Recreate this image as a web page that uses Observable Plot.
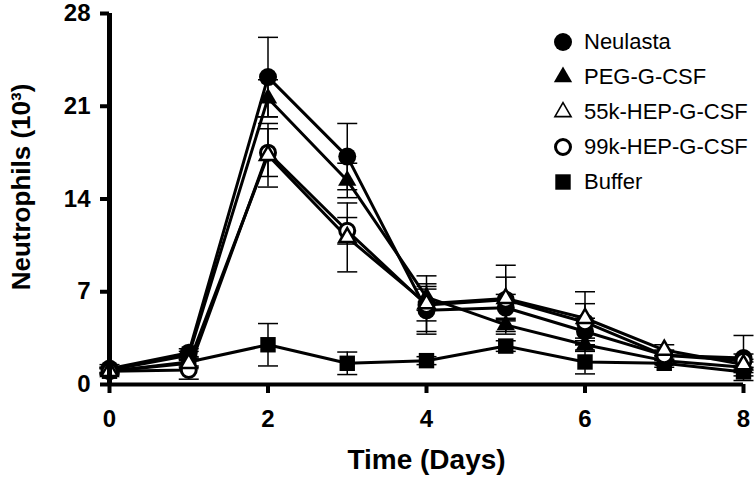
<!DOCTYPE html>
<html>
<head>
<meta charset="utf-8">
<script src="https://cdn.jsdelivr.net/npm/d3@7"></script>
<script src="https://cdn.jsdelivr.net/npm/@observablehq/plot@0.6"></script>
<style>
  html, body { margin: 0; padding: 0; background: #fff; }
  #wrap { position: relative; width: 756px; height: 479px; font-family: "Liberation Sans", Arial, sans-serif; }
  #legend { position: absolute; left: 550px; top: 24px; }
  .row { display: flex; align-items: center; height: 35px; font-size: 22px; color: #000; }
  .row svg { width: 26px; height: 26px; margin-right: 8px; }
</style>
</head>
<body>
<div id="wrap"></div>
<script>
const days = [0, 1, 2, 3, 4, 5, 6, 7, 8];
const seriesNames = ["Neulasta", "PEG-G-CSF", "55k-HEP-G-CSF", "99k-HEP-G-CSF", "Buffer"];

const neulasta    = [1.2, 2.4, 23.2, 17.2, 5.6, 5.8, 4.0, 2.2, 2.0];
const neulastaErr = [0.3, 0.3, 3.0, 2.5, 1.6, 1.0, 1.0, 0.4, 1.7];
const peg         = [1.1, 2.2, 21.6, 15.4, 6.6, 4.5, 3.0, 1.8, 1.3];
const pegErr      = [0.2, 0.3, 1.4, 1.3, 1.0, 0.5, 0.5, 0.3, 0.4];
const hep55       = [1.0, 1.6, 17.3, 11.1, 6.1, 6.5, 5.0, 2.6, 1.5];
const hep55Err    = [0.2, 0.3, 2.4, 2.6, 1.3, 1.6, 2.0, 0.4, 0.4];
const hep99       = [1.0, 1.1, 17.5, 11.6, 6.0, 6.4, 4.7, 2.2, 1.8];
const hep99Err    = [0.2, 0.7, 1.8, 1.0, 2.2, 2.6, 1.4, 0.3, 0.5];
const buffer      = [1.0, 1.7, 3.0, 1.6, 1.8, 2.9, 1.7, 1.6, 0.95];
const bufferErr   = [0.3, 0.3, 1.6, 0.85, 0.3, 0.4, 0.9, 0.3, 0.3];

const xTicks = [0, 2, 4, 6, 8];
const yTicks = [0, 7, 14, 21, 28];

const seriesValues = {
  "Neulasta": [neulasta, neulastaErr],
  "PEG-G-CSF": [peg, pegErr],
  "55k-HEP-G-CSF": [hep55, hep55Err],
  "99k-HEP-G-CSF": [hep99, hep99Err],
  "Buffer": [buffer, bufferErr]
};
const styles = {
  "Neulasta":      {symbol: "circle",   r: 9,   fill: "black", stroke: "black", strokeWidth: 0, legendStroke: 0},
  "PEG-G-CSF":     {symbol: "triangle", r: 6.8, fill: "black", stroke: "black", strokeWidth: 0, legendStroke: 0},
  "55k-HEP-G-CSF": {symbol: "triangle", r: 6,   fill: "white", stroke: "black", strokeWidth: 2.5, legendStroke: 1.6},
  "99k-HEP-G-CSF": {symbol: "circle",   r: 7.5, fill: "white", stroke: "black", strokeWidth: 3, legendStroke: 3},
  "Buffer":        {symbol: "square",   r: 8.7, fill: "black", stroke: "black", strokeWidth: 0, legendStroke: 0}
};
const drawOrder = ["Buffer", "Neulasta", "PEG-G-CSF", "99k-HEP-G-CSF", "55k-HEP-G-CSF"];

const rows = [];
for (const name of seriesNames) {
  const [vals, errs] = seriesValues[name];
  days.forEach((d, i) => rows.push({series: name, day: d, value: vals[i], lo: vals[i] - errs[i], hi: vals[i] + errs[i]}));
}

const capSymbol = { draw(ctx) { ctx.moveTo(-10, 0); ctx.lineTo(10, 0); } };

const marks = [];
// error bars
marks.push(Plot.ruleX(rows, {x: "day", y1: "lo", y2: "hi", stroke: "black", strokeWidth: 1.5}));
marks.push(Plot.dot(rows, {x: "day", y: "hi", symbol: capSymbol, r: 5, fill: "none", stroke: "black", strokeWidth: 1.5}));
marks.push(Plot.dot(rows, {x: "day", y: "lo", symbol: capSymbol, r: 5, fill: "none", stroke: "black", strokeWidth: 1.5}));
// lines
for (const name of drawOrder) {
  marks.push(Plot.line(rows.filter(r => r.series === name), {x: "day", y: "value", stroke: "black", strokeWidth: 3}));
}
// markers
for (const name of drawOrder) {
  const s = styles[name];
  marks.push(Plot.dot(rows.filter(r => r.series === name), {x: "day", y: "value", symbol: s.symbol, r: s.r, fill: s.fill, stroke: s.stroke, strokeWidth: s.strokeWidth}));
}
// axes
marks.push(Plot.axisY({ticks: yTicks, tickSize: 9, strokeWidth: 4, tickPadding: 10, fontSize: 24, fontWeight: "bold", label: null}));
marks.push(Plot.axisX({ticks: xTicks, tickSize: 9, strokeWidth: 4, tickPadding: 16, fontSize: 24, fontWeight: "bold", label: null}));
marks.push(Plot.ruleX([0], {stroke: "black", strokeWidth: 5}));
marks.push(Plot.ruleY([0], {stroke: "black", strokeWidth: 4}));
// titles
marks.push(Plot.text(["Time (Days)"], {frameAnchor: "bottom", dy: 76, fontSize: 28, fontWeight: "bold", textAnchor: "middle", lineAnchor: "middle", text: d => d}));
marks.push(Plot.text(["Neutrophils (10³)"], {frameAnchor: "left", rotate: -90, dx: -88, dy: -12, fontSize: 26, fontWeight: "bold", textAnchor: "middle", lineAnchor: "middle", text: d => d}));

const chart = Plot.plot({
  width: 756,
  height: 479,
  marginLeft: 109,
  marginRight: 13,
  marginTop: 13,
  marginBottom: 95,
  style: {fontFamily: "'Liberation Sans', Arial, sans-serif", background: "white", color: "black"},
  x: {domain: [0, 8]},
  y: {domain: [0, 28]},
  marks
});
const wrap = document.getElementById("wrap");
wrap.appendChild(chart);

// legend
const legend = document.createElement("div");
legend.id = "legend";
const typeMap = {circle: d3.symbolCircle, triangle: d3.symbolTriangle, square: d3.symbolSquare};
for (const name of seriesNames) {
  const s = styles[name];
  const row = document.createElement("div");
  row.className = "row";
  const svg = d3.create("svg").attr("viewBox", "-13 -13 26 26");
  svg.append("path")
    .attr("d", d3.symbol(typeMap[s.symbol], Math.PI * s.r * s.r)())
    .attr("fill", s.fill)
    .attr("stroke", s.stroke)
    .attr("stroke-width", s.legendStroke);
  row.appendChild(svg.node());
  const span = document.createElement("span");
  span.textContent = name;
  row.appendChild(span);
  legend.appendChild(row);
}
wrap.appendChild(legend);
</script>
</body>
</html>
